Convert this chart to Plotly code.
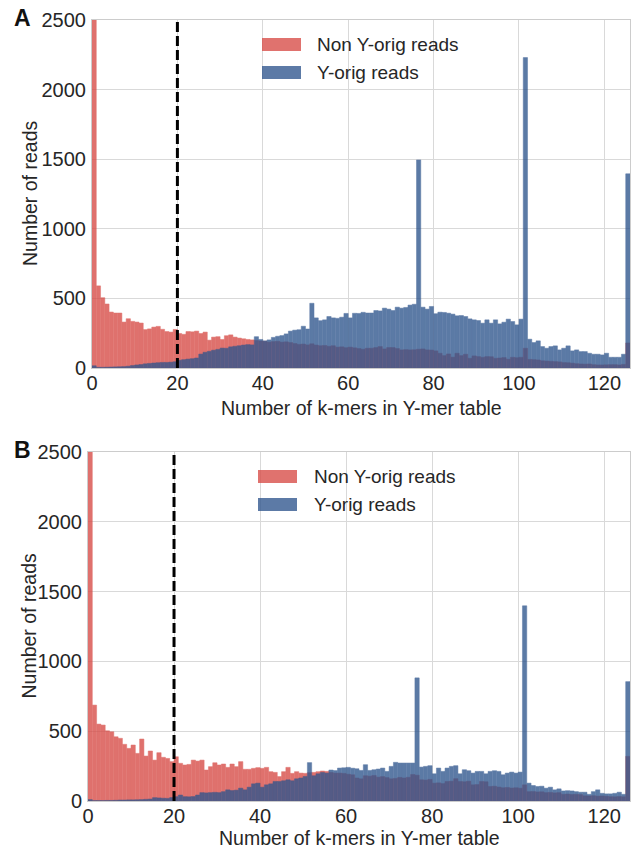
import plotly.graph_objects as go

# ---------------- data ----------------
bin_edges = list(range(0, 127))  # 126 unit-width bins from 0 to 126

non_y_a = [2800, 590, 505, 460, 402, 395, 395, 330, 354, 335,
           330, 323, 276, 281, 294, 299, 278, 262, 258, 277,
           248, 242, 262, 260, 265, 248, 258, 200, 222, 225,
           205, 232, 238, 222, 215, 210, 205, 202, 198, 194,
           192, 186, 190, 192, 186, 188, 183, 176, 170, 172,
           166, 174, 165, 160, 162, 156, 160, 150, 152, 146,
           150, 145, 140, 135, 142, 142, 147, 154, 137, 147,
           147, 140, 130, 132, 130, 131, 135, 137, 130, 129,
           123, 106, 89, 101, 78, 106, 89, 99, 70, 87,
           82, 77, 82, 81, 70, 72, 75, 63, 77, 74,
           77, 142, 62, 60, 58, 52, 50, 48, 46, 44,
           39, 38, 35, 31, 29, 28, 29, 24, 22, 22,
           23, 24, 24, 22, 26, 180]

y_orig_a = [16, 5, 5, 6, 7, 8, 9, 10, 13, 18,
            22, 25, 30, 33, 36, 38, 40, 40, 42, 45,
            56, 60, 64, 67, 72, 100, 113, 120, 128, 134,
            143, 142, 152, 156, 160, 165, 168, 166, 225, 205,
            195, 202, 220, 228, 233, 245, 265, 272, 275, 300,
            280, 465, 360, 340, 346, 370, 360, 357, 365, 392,
            360, 393, 392, 400, 395, 395, 413, 410, 430, 423,
            413, 437, 430, 435, 452, 458, 1495, 437, 423, 442,
            390, 401, 399, 394, 387, 375, 377, 370, 353, 346,
            341, 322, 346, 322, 346, 317, 329, 351, 334, 310,
            351, 2230, 207, 183, 195, 154, 142, 154, 159, 130,
            142, 159, 123, 130, 118, 118, 106, 99, 99, 94,
            106, 77, 77, 77, 99, 1395]

non_y_b = [2800, 687, 551, 544, 503, 496, 460, 449, 406, 377,
           401, 341, 444, 322, 358, 293, 346, 313, 305, 282,
           317, 270, 258, 262, 293, 286, 293, 222, 246, 274,
           258, 265, 241, 265, 246, 282, 227, 227, 234, 239,
           234, 241, 210, 205, 175, 210, 241, 198, 210, 200,
           198, 203, 205, 210, 215, 212, 205, 200, 200, 198,
           192, 188, 165, 159, 181, 178, 183, 171, 175, 168,
           159, 162, 169, 165, 170, 190, 185, 152, 150, 155,
           128, 130, 125, 140, 142, 160, 140, 138, 142, 116,
           118, 140, 138, 104, 106, 100, 95, 97, 93, 95,
           92, 116, 67, 68, 65, 66, 60, 62, 58, 60,
           48, 50, 47, 48, 46, 37, 36, 38, 35, 36,
           34, 31, 30, 32, 30, 320]

y_orig_b = [10, 3, 3, 3, 4, 4, 5, 7, 7, 8,
            8, 9, 10, 12, 14, 24, 22, 20, 19, 25,
            31, 43, 31, 30, 32, 43, 60, 58, 60, 62,
            60, 67, 80, 75, 78, 92, 80, 99, 123, 128,
            99, 116, 123, 140, 140, 145, 152, 145, 159, 165,
            176, 275, 181, 195, 205, 200, 222, 218, 236, 238,
            241, 235, 231, 219, 260, 219, 224, 229, 236, 212,
            248, 277, 272, 272, 272, 272, 882, 243, 248, 253,
            195, 236, 212, 236, 248, 253, 195, 224, 217, 200,
            212, 212, 195, 212, 217, 212, 188, 200, 207, 200,
            207, 1398, 128, 111, 104, 106, 92, 99, 80, 87,
            72, 74, 72, 67, 63, 63, 48, 67, 80, 55,
            51, 51, 55, 63, 48, 855]

series_names = ["Non Y-orig reads", "Y-orig reads"]
panel_letters = ["A", "B"]
threshold = 20
x_ticks = [0, 20, 40, 60, 80, 100, 120]
y_ticks = [0, 500, 1000, 1500, 2000, 2500]
x_title = "Number of k-mers in Y-mer table"
y_title = "Number of reads"

# ---------------- style ----------------
W, H = 632, 850
RED = "rgb(215,74,69)"
BLUE = "rgb(46,85,141)"
ALPHA = 0.78
FONT = "Liberation Sans, Arial, sans-serif"
TXT = "#262626"
GRID = "#d9d9d9"
FRAME = "#cccccc"

centers = [(a + b) / 2 for a, b in zip(bin_edges[:-1], bin_edges[1:])]
widths = [b - a for a, b in zip(bin_edges[:-1], bin_edges[1:])]

def fx(px):
    return px / W

def fy(py):
    return 1 - py / H

# panel geometry in window pixels: (left, right, top, bottom)
panels = [(92, 630, 20, 368), (88, 630, 452, 801)]
title_gap = [40, 37]

fig = go.Figure()
data = [(non_y_a, y_orig_a), (non_y_b, y_orig_b)]
for k, (red_vals, blue_vals) in enumerate(data):
    xa = "x" if k == 0 else "x2"
    ya = "y" if k == 0 else "y2"
    for vals, col, name in [(red_vals, RED, series_names[0]), (blue_vals, BLUE, series_names[1])]:
        fig.add_trace(go.Bar(
            x=centers, y=vals, width=widths, name=name,
            marker=dict(color=col, line=dict(color=col, width=0.5)),
            opacity=ALPHA, xaxis=xa, yaxis=ya, showlegend=False,
        ))

layout = dict(
    width=W, height=H, autosize=False,
    margin=dict(l=0, r=0, t=0, b=0, pad=0, autoexpand=False),
    paper_bgcolor="white", plot_bgcolor="white",
    barmode="overlay", bargap=0, showlegend=False,
    font=dict(family=FONT, color=TXT),
)

annotations = []
shapes = []
for k, (l, r, t, b) in enumerate(panels):
    sx = "" if k == 0 else "2"
    xaxis = dict(
        domain=[fx(l), fx(r)], range=[0, 126], anchor="y" + sx,
        tickvals=x_ticks, ticks="", ticklabelstandoff=-3, automargin=False,
        tickfont=dict(family=FONT, size=20, color=TXT),
        showgrid=True, gridcolor=GRID, gridwidth=1,
        showline=True, linecolor=FRAME, linewidth=1, mirror=True,
        zeroline=False, fixedrange=True,
    )
    yaxis = dict(
        domain=[fy(b), fy(t)], range=[0, 2500], anchor="x" + sx,
        tickvals=y_ticks, ticks="", ticklabelstandoff=1, automargin=False,
        tickfont=dict(family=FONT, size=20, color=TXT),
        showgrid=True, gridcolor=GRID, gridwidth=1,
        showline=True, linecolor=FRAME, linewidth=1, mirror=True,
        zeroline=False, fixedrange=True,
    )
    layout["xaxis" + sx] = xaxis
    layout["yaxis" + sx] = yaxis

    # threshold line
    shapes.append(dict(type="line", xref="x" + sx, yref="y" + sx + " domain",
                       x0=threshold, x1=threshold, y0=0, y1=1,
                       line=dict(color="black", width=3, dash="10px,4px")))

    # axis titles
    annotations.append(dict(text=x_title, xref="paper", yref="paper",
                            x=fx((l + r) / 2), y=fy(b + title_gap[k]), xanchor="center", yanchor="middle",
                            showarrow=False, font=dict(family=FONT, size=19.5, color=TXT)))
    annotations.append(dict(text=y_title, xref="paper", yref="paper", textangle=-90,
                            x=fx(30 if k == 0 else 28), y=fy((t + b) / 2), xanchor="center", yanchor="middle",
                            showarrow=False, font=dict(family=FONT, size=19.5, color=TXT)))
    # panel letter
    annotations.append(dict(text="<b>%s</b>" % panel_letters[k], xref="paper", yref="paper",
                            x=fx(22), y=fy(t - 2), xanchor="center", yanchor="middle",
                            showarrow=False, borderpad=0,
                            font=dict(family=FONT, size=23, color="#111111")))

    # legend
    sw_x0 = 262 if k == 0 else 258
    sw_x1 = sw_x0 + 39
    txt_x = 315 if k == 0 else 312
    rows = [(t + 24.5, RED, series_names[0]), (t + 52.5, BLUE, series_names[1])]
    for yc, col, name in rows:
        shapes.append(dict(type="rect", xref="paper", yref="paper",
                           x0=fx(sw_x0), x1=fx(sw_x1), y0=fy(yc + 6.5), y1=fy(yc - 6.5),
                           fillcolor=col, opacity=ALPHA, line=dict(width=0)))
        annotations.append(dict(text=name, xref="paper", yref="paper",
                                x=fx(txt_x), y=fy(yc), xanchor="left", yanchor="middle",
                                showarrow=False, font=dict(family=FONT, size=19, color=TXT)))

layout["shapes"] = shapes
layout["annotations"] = annotations
fig.update_layout(**layout)
fig.write_html(
    "out.html",
    config={"displayModeBar": False, "staticPlot": True},
    post_script="document.body.style.margin='0px';document.body.style.overflow='hidden';",
)
